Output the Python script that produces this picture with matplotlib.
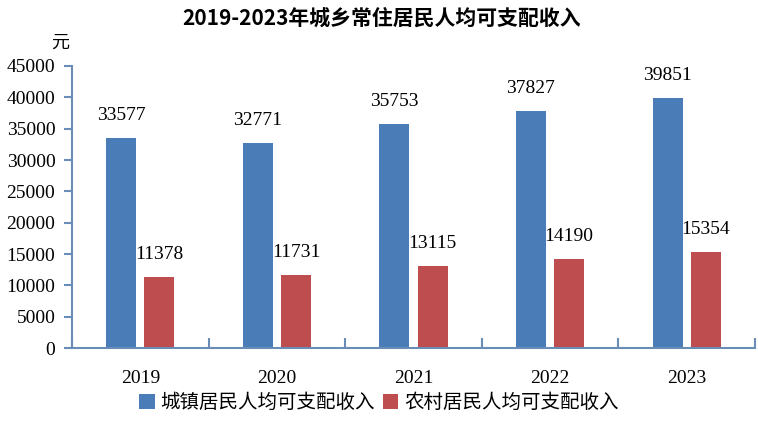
import numpy as np
import matplotlib
matplotlib.use('Agg')
import matplotlib.pyplot as plt

years = ['2019', '2020', '2021', '2022', '2023']
urban = [33577, 32771, 35753, 37827, 39851]
rural = [11378, 11731, 13115, 14190, 15354]
urban_name = '城镇居民人均可支配收入'
rural_name = '农村居民人均可支配收入'
title = '2019-2023年城乡常住居民人均可支配收入'

blue = '#4A7DB8'
red = '#BE4D4F'
axis_col = '#6A8DB8'
serif = ['Liberation Serif', 'DejaVu Serif']
cjk = ['Noto Sans CJK SC', 'DejaVu Sans']

fig = plt.figure(figsize=(7.58, 4.23), dpi=100)
ax = fig.add_axes([0.095, 0.177, 0.901, 0.667])

x = np.arange(len(years))
w = 0.22
b1 = ax.bar(x - 0.14, urban, w, color=blue, label=urban_name)
b2 = ax.bar(x + 0.14, rural, w, color=red, label=rural_name)

for bars, vals in ((b1, urban), (b2, rural)):
    for r, v in zip(bars, vals):
        ax.annotate(str(v), (r.get_x() + r.get_width() / 2, v),
                    xytext=(0, 10), textcoords='offset points',
                    ha='center', va='bottom', fontsize=14, family=serif)

ax.set_xlim(-0.5, len(years) - 0.5)
ax.set_ylim(0, 45000)
ax.set_yticks(np.arange(0, 45001, 5000))
ax.set_xticks(x)
ax.set_xticklabels(years)
ax.set_xticks(np.arange(-0.5, len(years)), minor=True)

for s in ('top', 'right'):
    ax.spines[s].set_visible(False)
for s in ('left', 'bottom'):
    ax.spines[s].set_color(axis_col)
    ax.spines[s].set_linewidth(1.5)

ax.tick_params(axis='y', direction='out', length=6, width=1.5, color=axis_col,
               pad=6, labelsize=14)
ax.tick_params(axis='x', which='major', length=0, pad=16, labelsize=14)
ax.tick_params(axis='x', which='minor', direction='in', length=7, width=1.5,
               color=axis_col)
for lab in ax.get_xticklabels() + ax.get_yticklabels():
    lab.set_family(serif)

fig.text(0.503, 0.957, title, ha='center', va='center', fontsize=15,
         fontweight='bold', family=cjk)
fig.text(0.079, 0.898, '元', ha='center', va='center', fontsize=13, family=cjk)

fig.legend(handles=[b1, b2], loc='center', bbox_to_anchor=(0.5, 0.048),
           ncol=2, frameon=False, prop={'family': cjk, 'size': 14},
           handlelength=0.8, handleheight=0.8, handletextpad=0.3,
           columnspacing=0.4)

fig.savefig('out.png', dpi=100)
